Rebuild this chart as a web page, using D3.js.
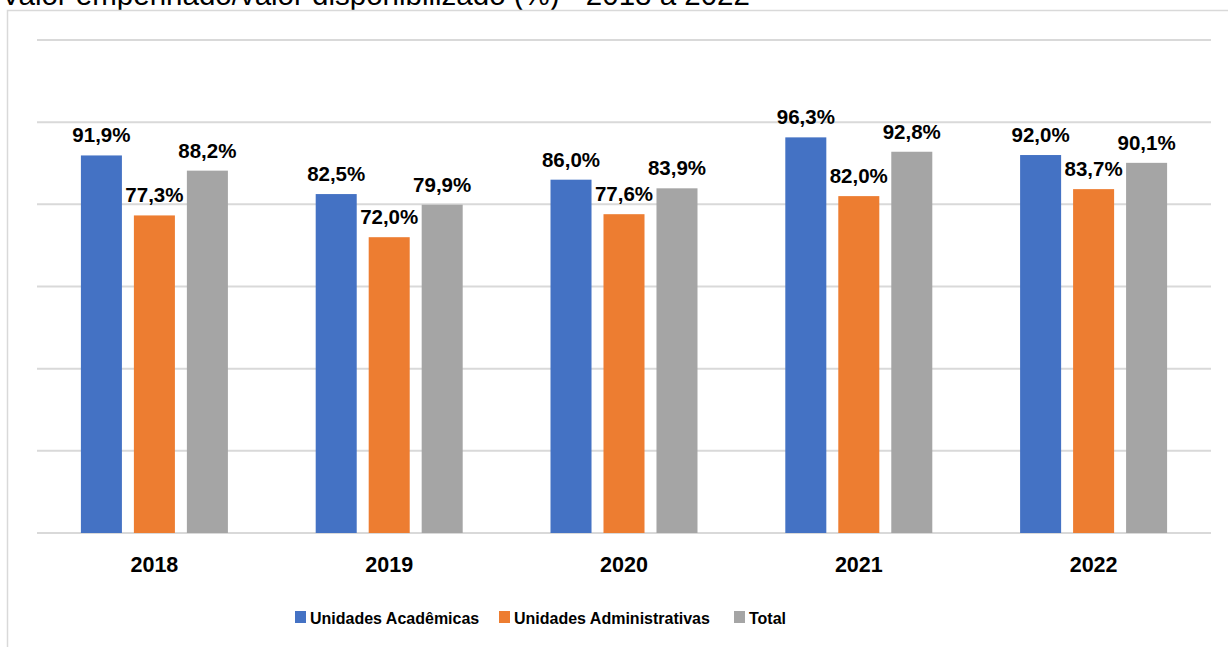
<!DOCTYPE html>
<html>
<head>
<meta charset="utf-8">
<script src="https://cdn.jsdelivr.net/npm/d3@7"></script>
<style>
  html, body { margin: 0; padding: 0; background: #fff; overflow: hidden; }
  svg { display: block; font-family: "Liberation Sans", Arial, sans-serif; }
</style>
</head>
<body>
<svg id="chart" width="1228" height="647"></svg>
<script>
// data
const years = ['2018', '2019', '2020', '2021', '2022'];
const seriesNames = ['Unidades Acadêmicas', 'Unidades Administrativas', 'Total'];
const academicas = [91.9, 82.5, 86.0, 96.3, 92.0];
const administrativas = [77.3, 72.0, 77.6, 82.0, 83.7];
const total = [88.2, 79.9, 83.9, 92.8, 90.1];
const gridTicks = [0, 20, 40, 60, 80, 100, 120];
const colors = ['#4472C4', '#ED7D31', '#A5A5A5'];

const values = [academicas, administrativas, total];

/**
 * layout of the plot area
 */
const plot = { left: 37, right: 1211, top: 40, bottom: 533 };

let svg = d3.select('#chart');

// title, cut off by the top of the screenshot
svg.append('text')
    .attr('x', 1)
    .attr('y', 5)
    .style('font-size', '29.5px')
    .style('fill', '#000')
    .text('Valor empenhado/valor disponibilizado (%) - 2018 a 2022');

// chart frame
svg.append('rect')
    .attr('x', 7.5)
    .attr('y', 10.5)
    .attr('width', 1240)
    .attr('height', 660)
    .attr('fill', 'none')
    .attr('stroke', '#D9D9D9')
    .attr('stroke-width', 1.5);

let xScale = d3.scaleBand()
    .domain(years)
    .range([plot.left, plot.right])
    .padding(0);

const groupWidth = 147;
let x1 = d3.scaleBand()
    .domain(seriesNames)
    .range([0, groupWidth])
    .paddingInner(0.226);

let yScale = d3.scaleLinear()
    .domain([0, 120])
    .range([plot.bottom, plot.top]);

// gridlines (no tick labels on the value axis)
svg.append('g')
    .attr('class', 'grid')
    .selectAll('line')
    .data(gridTicks)
    .enter()
    .append('line')
    .attr('x1', plot.left)
    .attr('x2', plot.right)
    .attr('y1', d => yScale(d))
    .attr('y2', d => yScale(d))
    .attr('stroke', '#D9D9D9')
    .attr('stroke-width', 2);

// category axis
let xAxis = d3.axisBottom(xScale).tickSize(0).tickPadding(0);
let axisG = svg.append('g')
    .attr('transform', 'translate(0,' + plot.bottom + ')')
    .call(xAxis);
axisG.select('.domain').remove();
axisG.selectAll('text')
    .attr('y', 39)
    .attr('dy', 0)
    .style('font-family', '"Liberation Sans", Arial, sans-serif')
    .style('font-size', '21.5px')
    .style('font-weight', 'bold')
    .style('fill', '#000');

// bars and labels
let rows = [];
years.forEach(function(year, i){
    seriesNames.forEach(function(name, s){
        rows.push({ year: year, name: name, s: s, value: values[s][i] });
    });
});

const groupOffset = (xScale.bandwidth() - groupWidth) / 2;

svg.append('g')
    .attr('class', 'bars')
    .selectAll('rect')
    .data(rows)
    .enter()
    .append('rect')
    .attr('x', d => xScale(d.year) + groupOffset + x1(d.name))
    .attr('y', d => yScale(d.value))
    .attr('width', x1.bandwidth())
    .attr('height', d => plot.bottom - yScale(d.value))
    .attr('fill', d => colors[d.s]);

svg.append('g')
    .attr('class', 'labels')
    .selectAll('text')
    .data(rows)
    .enter()
    .append('text')
    .attr('x', d => xScale(d.year) + groupOffset + x1(d.name) + x1.bandwidth() / 2)
    .attr('y', d => yScale(d.value) - 13)
    .attr('text-anchor', 'middle')
    .style('font-size', '20.5px')
    .style('font-weight', 'bold')
    .style('fill', '#000')
    .text(d => d.value.toFixed(1).replace('.', ',') + '%');

// legend
const legendX = [295, 499, 734];
let legend = svg.append('g')
    .attr('class', 'legend')
    .selectAll('g')
    .data(seriesNames)
    .enter()
    .append('g')
    .attr('transform', (d, i) => 'translate(' + legendX[i] + ',611)');
legend.append('rect')
    .attr('width', 11)
    .attr('height', 12)
    .attr('fill', (d, i) => colors[i]);
legend.append('text')
    .attr('x', 15)
    .attr('y', 12.5)
    .style('font-size', '16px')
    .style('font-weight', 'bold')
    .style('fill', '#000')
    .text(d => d);
</script>
</body>
</html>
